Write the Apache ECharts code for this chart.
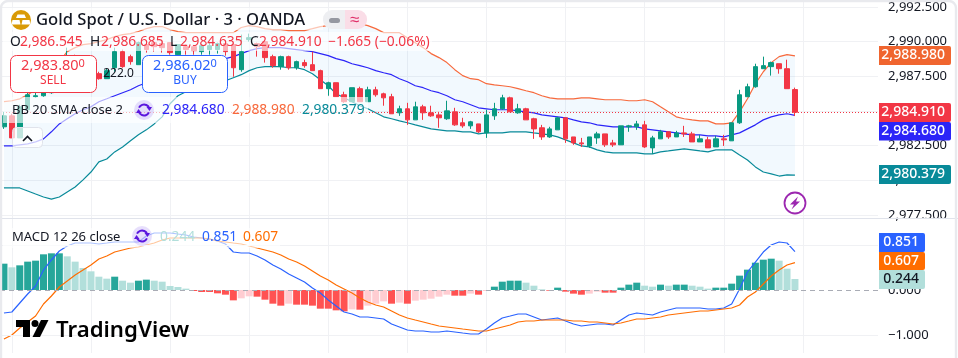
<!DOCTYPE html>
<html><head><meta charset="utf-8">
<style>html,body{margin:0;padding:0;background:#fff}#c{width:958px;height:358px}</style>
<script src="https://cdn.jsdelivr.net/npm/echarts@6/dist/echarts.min.js"></script></head>
<body><div id="c"></div>
<script>
const priceTicks=[2977.5,2992.5];
const opens=[
2983.86,2984.65,2983.06,2985.09,2986.03,2986.10,2986.32,2986.89,2987.98,2988.85,
2988.12,2988.41,2987.69,2987.33,2988.12,2989.28,2988.92,2988.34,2989.79,2989.93,
2989.86,2989.93,2989.06,2989.64,2989.64,2989.28,2989.43,2989.43,2989.86,2989.79,
2987.98,2990.15,2989.86,2990.00,2988.92,2988.20,2988.92,2988.12,2988.49,2988.34,
2987.91,2986.61,2987.04,2986.17,2985.67,2986.61,2985.67,2986.53,2986.24,2986.03,
2984.87,2985.16,2984.36,2985.30,2984.87,2984.72,2984.44,2984.94,2984.15,2983.93,
2984.07,2983.42,2984.65,2985.16,2985.95,2984.87,2985.16,2984.44,2983.79,2983.13,
2983.64,2984.51,2983.13,2982.70,2982.48,2983.06,2983.35,2982.70,2982.56,2983.86,
2983.86,2984.00,2982.34,2982.99,2983.50,2983.13,2983.42,2983.35,2982.77,2982.92,
2982.41,2982.99,2982.85,2984.15,2986.03,2986.75,2988.05,2988.20,2988.41,2988.05,2986.545];
const closes=[
2984.65,2983.06,2985.30,2986.17,2986.10,2986.32,2986.89,2987.98,2988.85,2988.27,
2988.56,2987.83,2987.33,2987.91,2989.28,2988.20,2988.56,2989.93,2989.43,2989.64,
2989.57,2989.21,2989.79,2989.43,2989.35,2989.71,2989.71,2989.86,2989.28,2988.12,
2989.28,2990.29,2989.64,2988.85,2988.27,2988.92,2988.12,2988.56,2988.27,2987.91,
2986.61,2987.04,2986.03,2985.67,2986.68,2985.67,2986.53,2986.17,2985.95,2984.80,
2985.16,2984.36,2985.30,2984.87,2984.65,2984.51,2985.01,2984.00,2983.93,2984.22,
2983.50,2984.72,2985.16,2985.95,2984.94,2985.16,2984.36,2983.71,2983.13,2983.71,
2984.51,2982.99,2982.70,2982.63,2983.13,2983.35,2982.56,2982.56,2983.93,2983.93,
2984.07,2982.41,2983.06,2983.50,2983.13,2983.42,2983.35,2982.77,2982.99,2982.34,
2982.99,2982.92,2984.15,2986.17,2986.75,2988.20,2988.27,2988.49,2988.05,2986.61,2984.91];
const lows=[
2983.71,2983.06,2983.06,2984.94,2985.95,2986.03,2986.24,2986.82,2987.83,2988.12,
2987.98,2987.69,2987.26,2987.33,2987.83,2988.12,2988.34,2988.34,2989.21,2989.28,
2989.21,2989.06,2988.92,2989.06,2989.06,2989.06,2989.06,2989.14,2988.99,2987.47,
2987.83,2990.00,2988.92,2988.49,2988.12,2987.98,2987.98,2987.98,2988.12,2987.91,
2986.61,2986.10,2986.03,2985.59,2985.67,2985.67,2985.67,2986.03,2985.38,2984.80,
2984.65,2984.00,2984.36,2984.36,2984.58,2983.79,2984.36,2983.93,2983.79,2983.71,
2983.42,2983.06,2984.36,2985.09,2984.94,2984.80,2984.36,2982.99,2982.92,2983.06,
2983.64,2982.70,2982.56,2982.41,2982.34,2982.63,2982.41,2982.41,2982.56,2983.50,
2983.64,2982.34,2981.91,2982.99,2982.99,2983.13,2983.13,2982.77,2982.77,2982.34,
2982.41,2982.48,2982.85,2984.07,2986.03,2986.68,2988.05,2987.55,2987.69,2986.61,2984.635];
const highs=[
2984.94,2984.80,2985.45,2986.32,2986.32,2986.46,2987.11,2988.34,2989.57,2989.06,
2988.70,2988.70,2987.83,2988.05,2989.57,2989.43,2989.06,2990.00,2989.93,2990.00,
2989.93,2989.93,2989.79,2989.79,2989.64,2989.79,2990.00,2989.93,2990.00,2989.93,
2990.51,2990.58,2989.93,2990.00,2989.06,2988.99,2988.99,2988.63,2988.70,2989.28,
2987.98,2987.11,2987.04,2986.39,2986.68,2986.75,2986.75,2986.75,2986.32,2986.24,
2985.38,2985.59,2985.67,2985.45,2985.38,2984.94,2985.74,2985.23,2984.51,2984.29,
2984.07,2985.09,2985.59,2986.17,2986.03,2985.52,2985.23,2984.51,2984.00,2983.86,
2984.58,2984.51,2983.13,2983.06,2983.13,2983.50,2983.35,2982.92,2983.93,2984.00,
2984.29,2984.29,2983.21,2983.64,2983.50,2983.57,2983.93,2983.50,2983.28,2983.13,
2983.21,2983.28,2984.15,2986.53,2986.97,2988.41,2988.92,2988.56,2988.41,2988.70,2986.685];
const bbUpper=[
2985.67,2985.74,2985.88,2986.17,2986.53,2987.04,2987.76,2988.56,2989.28,2989.57,
2989.79,2989.86,2990.00,2990.15,2990.37,2990.51,2990.58,2990.73,2990.94,2991.09,
2991.09,2990.87,2990.73,2990.65,2990.65,2990.65,2990.65,2990.65,2990.65,2990.65,
2991.02,2991.16,2991.09,2990.94,2990.87,2990.87,2990.80,2990.80,2990.80,2990.94,
2991.09,2991.16,2991.30,2991.38,2991.38,2991.30,2991.16,2990.94,2990.65,2990.65,
2990.65,2990.29,2989.93,2989.57,2989.14,2988.85,2988.49,2987.98,2987.55,2987.33,
2987.26,2986.97,2986.89,2986.82,2986.75,2986.61,2986.46,2986.32,2986.10,2985.95,
2985.88,2985.88,2985.88,2985.95,2985.95,2985.88,2985.81,2985.81,2985.81,2985.74,
2985.74,2985.81,2985.67,2985.30,2984.94,2984.58,2984.44,2984.36,2984.29,2984.29,
2984.07,2984.07,2984.15,2984.94,2985.88,2986.97,2987.83,2988.49,2988.92,2989.06,2988.98];
const bbBasis=[
2982.48,2982.48,2982.56,2982.63,2982.77,2982.99,2983.50,2984.07,2984.44,2984.80,
2985.09,2985.30,2985.67,2985.88,2986.10,2986.32,2986.53,2986.82,2987.04,2987.26,
2987.47,2987.69,2987.91,2988.05,2988.27,2988.41,2988.56,2988.70,2988.78,2988.92,
2989.14,2989.35,2989.50,2989.57,2989.57,2989.57,2989.50,2989.43,2989.35,2989.28,
2989.14,2988.99,2988.78,2988.63,2988.41,2988.27,2988.12,2987.91,2987.76,2987.62,
2987.33,2987.11,2986.82,2986.68,2986.46,2986.32,2986.10,2985.81,2985.67,2985.45,
2985.23,2985.16,2985.09,2985.09,2985.09,2985.01,2984.94,2984.87,2984.72,2984.65,
2984.58,2984.51,2984.36,2984.22,2984.15,2984.00,2983.93,2983.86,2983.86,2983.86,
2983.86,2983.71,2983.64,2983.57,2983.50,2983.42,2983.35,2983.28,2983.28,2983.21,
2983.21,2983.13,2983.28,2983.42,2983.71,2984.00,2984.36,2984.58,2984.72,2984.80,2984.68];
const bbLower=[
2979.45,2979.45,2979.45,2979.23,2979.01,2978.80,2978.65,2978.80,2979.16,2979.52,
2980.03,2980.60,2981.33,2981.54,2982.05,2982.41,2982.85,2983.28,2983.64,2984.07,
2984.58,2985.52,2986.10,2986.39,2986.68,2986.89,2986.97,2987.04,2987.18,2987.40,
2987.62,2987.91,2988.12,2988.20,2988.20,2988.20,2988.12,2988.12,2987.98,2987.69,
2987.26,2986.82,2986.24,2985.95,2985.67,2985.38,2985.16,2984.87,2984.58,2984.44,
2984.29,2984.15,2984.00,2983.86,2983.71,2983.64,2983.57,2983.57,2983.50,2983.50,
2983.35,2983.42,2983.42,2983.42,2983.50,2983.50,2983.50,2983.42,2983.35,2983.28,
2983.13,2982.92,2982.70,2982.48,2982.41,2982.20,2982.05,2981.98,2981.98,2981.98,
2981.98,2981.91,2981.91,2982.05,2982.12,2982.20,2982.27,2982.20,2982.12,2982.05,
2982.20,2982.20,2982.20,2981.83,2981.47,2980.97,2980.60,2980.46,2980.31,2980.39,2980.379];
const macdLine=[
-.511,-.489,-.289,-.089,.089,.444,.667,.867,.978,1.044,
1.044,1.044,1.022,1.044,1.067,1.067,1.067,1.067,1.2,1.267,
1.267,1.267,1.244,1.222,1.178,1.156,1.133,1.089,1.022,.844,
.822,.822,.756,.667,.556,.467,.356,.267,.178,.044,
-.067,-.222,-.356,-.489,-.533,-.6,-.6,-.622,-.644,-.756,
-.822,-.889,-.911,-.911,-.933,-.933,-.911,-.933,-.956,-.978,
-.978,-.867,-.733,-.622,-.578,-.533,-.533,-.6,-.667,-.644,
-.622,-.689,-.756,-.8,-.778,-.756,-.756,-.778,-.667,-.556,
-.511,-.533,-.556,-.489,-.444,-.4,-.4,-.4,-.4,-.422,
-.422,-.4,-.311,.022,.4,.622,.844,1.0,1.067,1.044,.851];
const signalLine=[
-1.089,-1.0,-.844,-.711,-.578,-.311,-.133,.067,.2,.333,
.444,.556,.689,.756,.844,.889,.933,.956,1.0,1.044,
1.111,1.156,1.156,1.156,1.156,1.156,1.133,1.089,1.067,1.044,
1.022,.978,.933,.889,.844,.778,.689,.622,.533,.422,
.311,.222,.111,.022,-.067,-.178,-.267,-.333,-.378,-.467,
-.556,-.622,-.667,-.711,-.756,-.8,-.822,-.844,-.867,-.889,
-.911,-.911,-.867,-.822,-.778,-.711,-.689,-.689,-.667,-.667,
-.667,-.667,-.689,-.689,-.711,-.711,-.733,-.756,-.733,-.689,
-.644,-.644,-.622,-.6,-.556,-.533,-.511,-.489,-.467,-.467,
-.444,-.422,-.4,-.333,-.156,-.044,.133,.311,.444,.556,.607];
const histogram=[
.585,.504,.548,.63,.652,.793,.815,.815,.748,.63,
.489,.415,.296,.252,.296,.207,.163,.207,.23,.207,
.185,.089,.067,.03,-.022,-.044,-.044,-.074,-.104,-.23,
-.185,-.141,-.148,-.215,-.304,-.348,-.304,-.326,-.326,-.348,
-.415,-.415,-.452,-.474,-.43,-.437,-.348,-.304,-.252,-.304,
-.281,-.304,-.237,-.215,-.193,-.148,-.104,-.126,-.126,-.081,
-.104,-.022,.074,.185,.207,.207,.163,.096,.015,-.015,
.052,-.037,-.081,-.104,-.081,-.037,-.059,-.059,.052,.119,
.163,.096,.074,.119,.096,.119,.119,.096,.074,.03,
.052,.052,.141,.319,.452,.607,.674,.696,.652,.474,.244];
const lastClose=2984.91;
const bars=Array.from({length:111},(_,i)=>String(i));
const FONT='"Noto Sans",sans-serif';
const GRID='#F0F1F4';
const C={up:'#089981',down:'#F23645',upper:'#F7693C',basis:'#2B24F8',lower:'#088A99',macd:'#2962FF',signal:'#FF6D00',mint:'#B2DFDB',ink:'#131722'};
const histColors=histogram.map((v,i)=>{
  const p=i?histogram[i-1]:v-1;
  if(v>=0) return v>=p?'#26A69A':'#B2DFDB';
  return v<=p?'#FF5252':'#FFCDD2';
});
const txt=(x,y,text,fill,size,extra)=>({type:'text',z:120,silent:true,x,y,style:Object.assign({text,fill,font:`${size||13.8}px ${FONT}`,verticalAlign:'middle',align:'left'},extra||{})});
const veil=(x,y,w,h,a)=>({type:'rect',z:110,silent:true,shape:{x,y,width:w,height:h},style:{fill:`rgba(255,255,255,${a||.62})`}});
const tag=(y,h,w,fill,text,color)=>[
 {type:'rect',z:125,silent:true,shape:{x:879,y,width:w,height:h,r:[0,2,2,0]},style:{fill}},
 {type:'text',z:126,silent:true,x:879+w-6,y:y+h/2,style:{text,fill:color||'#fff',align:'right',verticalAlign:'middle',font:`500 14px ${FONT}`}}];
const refresh=(cx,cy)=>[
 {type:'circle',z:118,silent:true,shape:{cx,cy,r:10},style:{fill:'rgba(120,80,240,.18)'}},
 {type:'arc',z:119,silent:true,shape:{cx,cy,r:5.5,startAngle:-2.7,endAngle:-0.3},style:{stroke:'#5A16DE',fill:'none',lineWidth:2}},
 {type:'arc',z:119,silent:true,shape:{cx,cy,r:5.5,startAngle:0.45,endAngle:2.85},style:{stroke:'#5A16DE',fill:'none',lineWidth:2}},
 {type:'polygon',z:119,silent:true,shape:{points:[[cx+2.5,cy-3],[cx+8,cy-3],[cx+5.5,cy+1]]},style:{fill:'#5A16DE'}},
 {type:'polygon',z:119,silent:true,shape:{points:[[cx-8,cy+3],[cx-2.5,cy+3],[cx-5.5,cy-1]]},style:{fill:'#5A16DE'}}];
const graphics=[
 veil(3,8,320,22),veil(3,32,429,19),veil(3,97,365,26),veil(3,228,277,20),
 {type:'rect',z:130,silent:true,shape:{x:1,y:1,width:955,height:400,r:7},style:{fill:'none',stroke:'#E9EAEE',lineWidth:2.4}},
 {type:'circle',z:120,silent:true,shape:{cx:21,cy:20,r:10},style:{fill:'#D99A06'}},
 {type:'polygon',z:121,silent:true,shape:{points:[[17.5,14.5],[24.5,14.5],[26,18],[16,18]]},style:{fill:'#fff'}},
 {type:'polygon',z:121,silent:true,shape:{points:[[12.5,20],[19.5,20],[20.5,24.5],[11.5,24.5]]},style:{fill:'#fff'}},
 {type:'polygon',z:121,silent:true,shape:{points:[[22.5,20],[29.5,20],[30.5,24.5],[21.5,24.5]]},style:{fill:'#fff'}},
 txt(36,20,'Gold Spot / U.S. Dollar · 3 · OANDA',C.ink,16.6,{font:`500 16.6px ${FONT}`}),
 {type:'rect',z:112,silent:true,shape:{x:323,y:10,width:22,height:19,r:[9,0,0,9]},style:{fill:'#EEEFF2'}},
 {type:'rect',z:112,silent:true,shape:{x:345,y:10,width:22,height:19,r:[0,9,9,0]},style:{fill:'#FADDE7'}},
 {type:'rect',z:113,silent:true,shape:{x:329,y:18,width:11,height:5,r:2.5},style:{fill:'#9598A1'}},
 txt(350,20,'≈','#E0306A',17),
 txt(10,42,'O',C.ink),txt(20,42,'2,986.545',C.down),
 txt(90,42,'H',C.ink),txt(101,42,'2,986.685',C.down),
 txt(170,42,'L',C.ink),txt(180,42,'2,984.635',C.down),
 txt(250,42,'C',C.ink),txt(259,42,'2,984.910',C.down),
 txt(328,42,'−1.665 (−0.06%)',C.down),
 {type:'rect',z:115,silent:true,shape:{x:10.5,y:55.5,width:86,height:37,r:6},style:{fill:'#fff',stroke:C.down,lineWidth:1}},
 {type:'rect',z:115,silent:true,shape:{x:142.5,y:55.5,width:85,height:37,r:6},style:{fill:'#fff',stroke:C.macd,lineWidth:1}},
 {type:'text',z:120,silent:true,x:53,y:66,style:{text:'{a|2,983.80}{b|0}',align:'center',verticalAlign:'middle',rich:{a:{fill:C.down,font:`14.5px ${FONT}`},b:{fill:C.down,font:`11px ${FONT}`,verticalAlign:'top'}}}},
 txt(53,81,'SELL',C.down,12,{align:'center'}),
 {type:'text',z:120,silent:true,x:185,y:66,style:{text:'{a|2,986.02}{b|0}',align:'center',verticalAlign:'middle',rich:{a:{fill:C.macd,font:`14.5px ${FONT}`},b:{fill:C.macd,font:`11px ${FONT}`,verticalAlign:'top'}}}},
 txt(185,81,'BUY',C.macd,12,{align:'center'}),
 txt(118.5,74,'222.0',C.ink,12,{align:'center'}),
 txt(12,110,'BB 20 SMA close 2',C.ink,13),
 ...refresh(144,110),
 txt(162,110,'2,984.680',C.basis),txt(232,110,'2,988.980',C.upper),txt(302,110,'2,980.379',C.lower),
 {type:'rect',z:112,silent:true,shape:{x:12.5,y:127.5,width:30,height:20,r:4},style:{fill:'rgba(255,255,255,.75)',stroke:'#E0E3EB',lineWidth:1}},
 {type:'polyline',z:113,silent:true,shape:{points:[[23,141],[27.5,136.5],[32,141]]},style:{stroke:C.ink,fill:'none',lineWidth:1.6}},
 txt(12,237,'MACD 12 26 close',C.ink,13),
 ...refresh(142,236),
 txt(160,237,'0.244',C.mint),txt(202,237,'0.851',C.macd),txt(243,237,'0.607',C.signal),
 {type:'circle',z:120,silent:true,shape:{cx:795,cy:203,r:10.5},style:{fill:'#fff',stroke:'#9C27B0',lineWidth:1.8}},
 {type:'polygon',z:121,silent:true,shape:{points:[[798,196.5],[790,204.5],[794,204.5],[791.5,209.5],[800,201.5],[796,201.5]]},style:{fill:'#9C27B0'}},
 {type:'polygon',z:120,silent:true,shape:{points:[[16,320],[30,320],[30,337],[23,337],[23,327],[16,327]]},style:{fill:'#000'}},
 {type:'circle',z:120,silent:true,shape:{cx:35,cy:323.5,r:3.5},style:{fill:'#000'}},
 {type:'polygon',z:120,silent:true,shape:{points:[[41,320],[48.5,320],[40,337],[32.5,337]]},style:{fill:'#000'}},
 txt(56,330.5,'TradingView','#000',22.2,{font:`600 22.2px ${FONT}`}),
 ...tag(46,19,72,'#F0652F','2,988.980'),
 ...tag(103,19,72,C.down,'2,984.910'),
 ...tag(122,18.5,72,C.basis,'2,984.680'),
 ...tag(165,19,72,C.lower,'2,980.379'),
 ...tag(233,19,46,C.macd,'0.851'),
 ...tag(252,18,46,C.signal,'0.607'),
 ...tag(270,19,46,C.mint,'0.244',C.ink),
 {type:'rect',z:105,silent:true,shape:{x:2,y:218,width:956,height:1},style:{fill:'#E0E3EB'}}
];
const lineS=(name,data,color,g,w,z)=>({name,type:'line',data,xAxisIndex:g,yAxisIndex:g,symbol:'none',smooth:false,z:z||4,silent:true,lineStyle:{color,width:w||1.2},animation:false});
const hiddenX=(g,split)=>({type:'category',gridIndex:g,data:bars,boundaryGap:true,axisLine:{show:false},axisTick:{show:false},axisLabel:{show:false},
  splitLine:{show:split,alignWithLabel:true,interval:(i)=>(i-1)%10===0,lineStyle:{color:GRID,width:1}}});
const chart=echarts.init(document.getElementById('c'),null,{renderer:'canvas'});
chart.setOption({
 animation:false,backgroundColor:'#fff',
 grid:[{left:-3,width:881,top:7,height:208},{left:-3,width:881,top:218,height:135},{left:-3,width:881,top:2,height:216}],
 xAxis:[hiddenX(0,false),hiddenX(1,true),hiddenX(2,true)],
 yAxis:[
  {type:'value',gridIndex:0,position:'right',min:priceTicks[0],max:priceTicks[1],interval:2.5,axisLine:{show:false},axisTick:{show:false},
   axisLabel:{margin:10,color:C.ink,fontFamily:FONT,fontSize:13,padding:[0,0,3,0],formatter:v=>v.toLocaleString('en-US',{minimumFractionDigits:3,maximumFractionDigits:3})},
   splitLine:{show:true,lineStyle:{color:GRID,width:1}}},
  {type:'value',gridIndex:1,position:'right',min:-1.4,max:1.6,axisLine:{show:false},axisTick:{show:false},
   axisLabel:{customValues:[-1,0,1],margin:10,color:C.ink,fontFamily:FONT,fontSize:13,formatter:v=>(v<0?'−':'')+Math.abs(v).toFixed(3)},
   splitLine:{show:false}},
  {type:'value',gridIndex:2,show:false,min:0,max:1,splitLine:{show:false}}
 ],
 series:[
  {name:'bandBase',type:'line',data:bbLower,stack:'bb',xAxisIndex:0,yAxisIndex:0,symbol:'none',silent:true,lineStyle:{width:0,opacity:0},z:1},
  {name:'bandFill',type:'line',data:bbUpper.map((u,i)=>+(u-bbLower[i]).toFixed(3)),stack:'bb',xAxisIndex:0,yAxisIndex:0,symbol:'none',silent:true,lineStyle:{width:0,opacity:0},areaStyle:{color:'rgba(33,150,243,0.06)',opacity:1},z:1},
  lineS('BB upper',bbUpper,C.upper,0),
  lineS('BB basis',bbBasis,C.basis,0),
  lineS('BB lower',bbLower,C.lower,0),
  {name:'Gold',type:'candlestick',xAxisIndex:0,yAxisIndex:0,z:5,barWidth:5,silent:true,
   data:opens.map((o,i)=>[o,closes[i],lows[i],highs[i]]),
   itemStyle:{color:C.up,color0:C.down,borderColor:C.up,borderColor0:C.down,borderWidth:1},
   markLine:{silent:true,symbol:'none',label:{show:false},animation:false,lineStyle:{color:C.down,type:[1,2],width:1},data:[{yAxis:lastClose}]}},
  {name:'Histogram',type:'bar',xAxisIndex:1,yAxisIndex:1,barWidth:7,z:2,silent:true,
   data:histogram.map((v,i)=>({value:v,itemStyle:{color:histColors[i]}})),
   markLine:{silent:true,symbol:'none',label:{show:false},animation:false,data:[
    {yAxis:1,lineStyle:{color:GRID,type:'solid',width:1}},
    {yAxis:-1,lineStyle:{color:GRID,type:'solid',width:1}},
    {yAxis:0,lineStyle:{color:'#A9ACB5',type:[5,4],width:1}}]}},
  lineS('MACD',macdLine,C.macd,1,1.2),
  lineS('Signal',signalLine,C.signal,1,1.2)
 ],
 graphic:{elements:graphics}
});
</script></body></html>
